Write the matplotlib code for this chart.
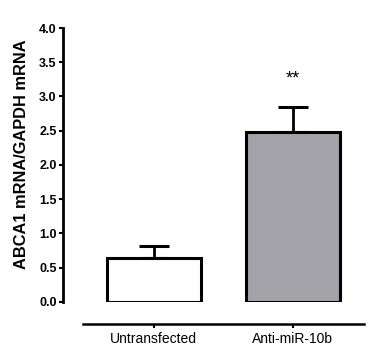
import matplotlib
matplotlib.use("Agg")
import matplotlib.pyplot as plt

plt.rcParams['font.family'] = ['Liberation Sans', 'DejaVu Sans']

# data
groups = ["Untransfected", "Anti-miR-10b"]
means = [0.64, 2.48]
errors = [0.18, 0.36]
colors = ["white", "#a3a2a8"]
signif = ["", "**"]

fig = plt.figure(figsize=(3.74, 3.55), dpi=100)
ax = fig.add_axes([0.168, 0.150, 0.802, 0.771])

x = list(range(len(groups)))
ax.bar(x, means, width=0.68, color=colors, edgecolor="black", linewidth=2.2, zorder=2)
for xi, m, e in zip(x, means, errors):
    ax.errorbar(xi, m, yerr=[[0], [e]], fmt="none", ecolor="black",
                elinewidth=2.0, capsize=11, capthick=2.2, zorder=1)
for xi, m, e, s in zip(x, means, errors, signif):
    if s:
        ax.text(xi, m + e + 0.42, s, ha="center", va="center", fontsize=13)

ax.set_xlim(-0.655, 1.504)
ax.set_ylim(0, 4.0)
ax.set_yticks([0.0, 0.5, 1.0, 1.5, 2.0, 2.5, 3.0, 3.5, 4.0])
ax.set_yticklabels([f"{v:.1f}" for v in ax.get_yticks()], fontweight="bold", fontsize=9)
ax.set_xticks(x)
ax.set_xticklabels(groups, fontweight="bold", fontsize=8.5)
ax.set_ylabel("ABCA1 mRNA/GAPDH mRNA", fontweight="bold", fontsize=11.8)
ax.yaxis.set_label_coords(-0.112, 0.54)

ax.spines["top"].set_visible(False)
ax.spines["right"].set_visible(False)
ax.spines["left"].set_linewidth(2.0)
ax.spines["bottom"].set_linewidth(1.8)
ax.spines["bottom"].set_position(("outward", 16))
ax.spines["bottom"].set_bounds(-0.51, 1.51)
ax.tick_params(axis="y", width=1.5, length=3, pad=1.5)
ax.tick_params(axis="x", width=1.5, length=3, pad=3.0)

fig.savefig("out.png", dpi=100, facecolor="white")
